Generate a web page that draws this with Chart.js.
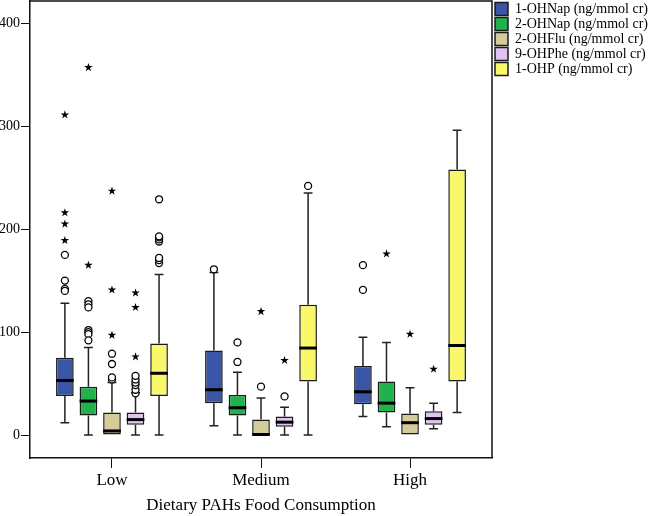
<!DOCTYPE html>
<html>
<head>
<meta charset="utf-8">
<script src="https://cdn.jsdelivr.net/npm/chart.js@4.4.1/dist/chart.umd.min.js"></script>
<style>
  body { margin: 0; background: #fff; }
  canvas { display: block; }
</style>
</head>
<body>
<canvas id="boxChart" width="649" height="516"></canvas>
<script>
// categorias y series
const categories = ['Low', 'Medium', 'High'];
const seriesNames = ['1-OHNap (ng/mmol cr)', '2-OHNap (ng/mmol cr)', '2-OHFlu (ng/mmol cr)', '9-OHPhe (ng/mmol cr)', '1-OHP (ng/mmol cr)'];
const seriesColors = ['#3b55a6', '#22b24c', '#d5cc9a', '#dfc3f1', '#f8f86a'];
const yTicks = [0, 100, 200, 300, 400];

// valores por serie -> [Low, Medium, High]
const whiskerLow  = [[12, 9, 18], [0, 0, 8], [0, 0, 0], [0, 0, 6], [0, 0, 22]];
const q1          = [[38, 31, 30], [19, 19, 22], [0, 0, 0], [10, 8, 10], [38, 52, 52]];
const median      = [[53, 44, 42], [33, 26.5, 31], [4, 0.5, 12], [15, 12.5, 16], [60, 84.5, 87]];
const q3          = [[75, 82, 67], [47, 39, 52], [22, 15, 21], [22, 18, 23], [89, 126.5, 258]];
const whiskerHigh = [[128, 158, 95], [85, 61, 90], [51, 36, 46], [41, 27, 31], [156, 235, 296]];

// circulos (outliers) y estrellas (extremos)
const outliers = [
  [[175, 150, 142, 140], [161], [165, 141]],
  [[130, 127, 124, 102, 100, 98, 92], [71, 90], []],
  [[54, 56, 69, 79], [47], []],
  [[40.5, 44, 48.5, 51, 54, 57.5], [37.5], []],
  [[167, 170, 172, 188, 190, 192, 193, 229], [242], []]
];
const extremes = [
  [[189, 205, 216, 311], [], []],
  [[165, 357], [], [176]],
  [[97, 141, 237], [120], [98]],
  [[76, 124, 138], [72.5], [64]],
  [[], [], []]
];

const serif = 'Liberation Serif, Times New Roman, serif';

function drawStar(ctx, x, y, r) {
  ctx.beginPath();
  for (let i = 0; i < 10; i++) {
    const rad = i % 2 === 0 ? r : r * 0.38;
    const a = -Math.PI / 2 + i * Math.PI / 5;
    const px = x + rad * Math.cos(a), py = y + rad * Math.sin(a);
    if (i === 0) ctx.moveTo(px, py); else ctx.lineTo(px, py);
  }
  ctx.closePath();
  ctx.fill();
}

// bigotes, medianas, outliers y marco
const boxExtras = {
  id: 'boxExtras',
  afterLayout(chart) {
    // leyenda un poco separada del marco
    if (chart.legend) { chart.legend.left += 2; chart.legend.right += 2; }
  },
  beforeDatasetsDraw(chart) {
    const ctx = chart.ctx, ys = chart.scales.y;
    ctx.save();
    ctx.strokeStyle = '#222';
    ctx.lineWidth = 1.5;
    chart.data.datasets.forEach((ds, s) => {
      chart.getDatasetMeta(s).data.forEach((bar, c) => {
        const cap = bar.width / 4;
        [[q3[s][c], whiskerHigh[s][c]], [q1[s][c], whiskerLow[s][c]]].forEach(([from, to]) => {
          if (from === to) return;
          const y0 = ys.getPixelForValue(from), y1 = ys.getPixelForValue(to);
          ctx.beginPath();
          ctx.moveTo(bar.x, y0); ctx.lineTo(bar.x, y1);
          ctx.moveTo(bar.x - cap, y1); ctx.lineTo(bar.x + cap, y1);
          ctx.stroke();
        });
      });
    });
    ctx.restore();
  },
  afterDatasetsDraw(chart) {
    const ctx = chart.ctx, ys = chart.scales.y;
    ctx.save();
    chart.data.datasets.forEach((ds, s) => {
      chart.getDatasetMeta(s).data.forEach((bar, c) => {
        const half = bar.width / 2;
        const ym = ys.getPixelForValue(median[s][c]);
        ctx.strokeStyle = '#000';
        ctx.lineWidth = 3;
        ctx.beginPath();
        ctx.moveTo(bar.x - half, ym); ctx.lineTo(bar.x + half, ym);
        ctx.stroke();

        ctx.lineWidth = 1.3;
        outliers[s][c].forEach(v => {
          ctx.beginPath();
          ctx.arc(bar.x, ys.getPixelForValue(v), 3.5, 0, Math.PI * 2);
          ctx.fillStyle = '#fff';
          ctx.fill();
          ctx.stroke();
        });
        ctx.fillStyle = '#000';
        extremes[s][c].forEach(v => drawStar(ctx, bar.x, ys.getPixelForValue(v), 4.5));
      });
    });
    ctx.restore();
  },
  afterDraw(chart) {
    const { ctx, chartArea: a } = chart;
    ctx.save();
    ctx.strokeStyle = '#111';
    ctx.lineWidth = 1.5;
    ctx.beginPath();
    ctx.moveTo(a.left, a.top); ctx.lineTo(a.right, a.top); ctx.lineTo(a.right, a.bottom);
    ctx.stroke();
    ctx.restore();
  }
};

document.addEventListener('DOMContentLoaded', () => {
  try {
    const ctx = document.getElementById('boxChart').getContext('2d');
    new Chart(ctx, {
      type: 'bar',
      data: {
        datasets: seriesNames.map((name, s) => ({
          label: name,
          data: categories.map((cat, c) => ({ x: c, y: [q1[s][c], q3[s][c]] })),
          backgroundColor: seriesColors[s],
          borderColor: '#1a1a1a',
          borderWidth: 1.5,
          borderSkipped: false,
          categoryPercentage: 0.79,
          barPercentage: 0.75
        }))
      },
      options: {
        responsive: false,
        animation: false,
        layout: { padding: { top: 1, left: 0, right: 0, bottom: 0 } },
        plugins: {
          tooltip: { enabled: false },
          legend: {
            position: 'right',
            align: 'start',
            maxWidth: 157,
            labels: {
              boxWidth: 13,
              boxHeight: 13,
              padding: 1,
              color: '#000',
              font: { family: serif, size: 14 }
            }
          }
        },
        scales: {
          x: {
            type: 'linear',
            min: -0.55,
            max: 2.55,
            offset: false,
            afterFit: (scale) => { scale.height = 58; scale.paddingLeft = 0; scale.paddingRight = 0; },
            afterBuildTicks: (scale) => { scale.ticks = categories.map((c, i) => ({ value: i })); },
            grid: { offset: false, drawOnChartArea: false, drawTicks: true, tickLength: 10, color: '#111' },
            border: { display: true, color: '#111', width: 1.5 },
            ticks: {
              padding: 2,
              color: '#000',
              font: { family: serif, size: 17 },
              callback: (v) => categories[v]
            },
            title: {
              display: true,
              text: 'Dietary PAHs Food Consumption',
              color: '#000',
              font: { family: serif, size: 17 },
              padding: { top: 0, bottom: 0 }
            }
          },
          y: {
            min: -22.3,
            max: 421.6,
            afterFit: (scale) => { scale.width = 30; scale.paddingTop = 0; scale.paddingBottom = 0; },
            afterBuildTicks: (scale) => { scale.ticks = yTicks.map(v => ({ value: v })); },
            grid: { drawOnChartArea: false, drawTicks: true, tickLength: 9, color: '#111' },
            border: { display: true, color: '#111', width: 1.5 },
            ticks: {
              padding: 1,
              color: '#000',
              font: { family: serif, size: 14 }
            }
          }
        }
      },
      plugins: [boxExtras]
    });
  } catch (error) {
    console.error('Error al generar el grafico:', error);
  }
});
</script>
</body>
</html>
